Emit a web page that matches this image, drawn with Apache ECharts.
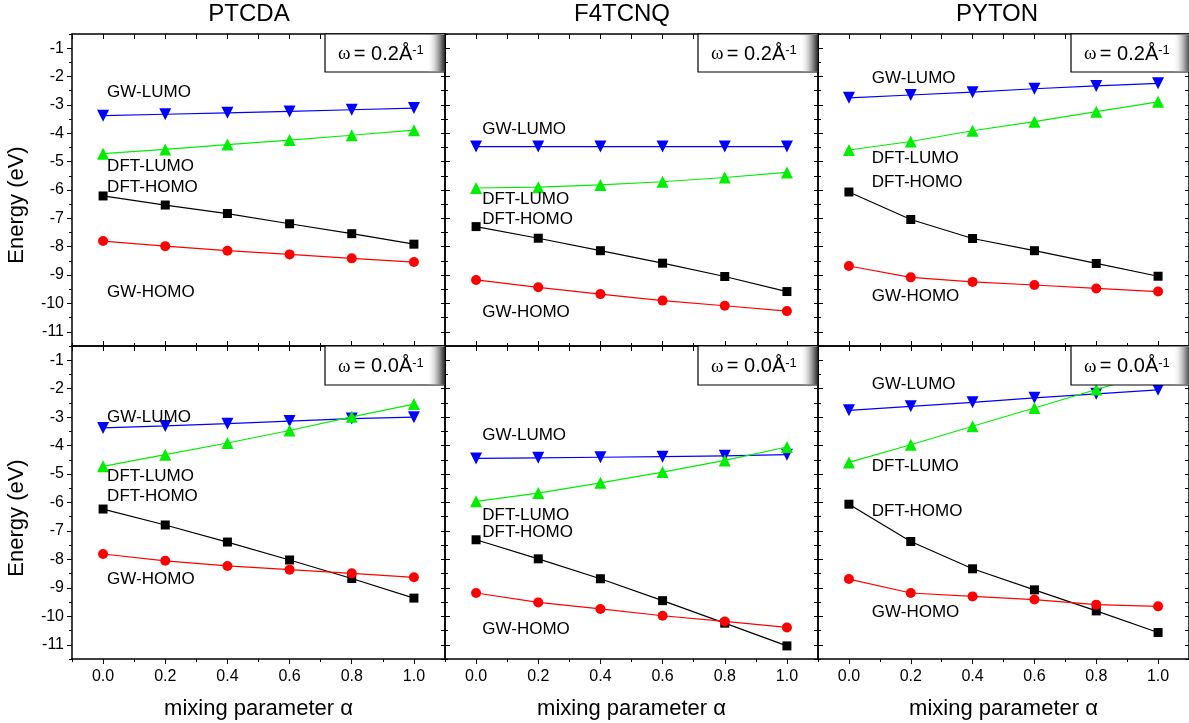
<!DOCTYPE html>
<html><head><meta charset="utf-8">
<script src="https://cdn.jsdelivr.net/npm/echarts@6/dist/echarts.min.js"></script>
<style>html,body{margin:0;padding:0;background:#fff}#c{width:1189px;height:723px}</style>
</head><body><div id="c"></div><script>
// ---------------- data ----------------
const alpha = [0.0, 0.2, 0.4, 0.6, 0.8, 1.0];
const molecules = ['PTCDA', 'F4TCNQ', 'PYTON'];
const omegaValues = ['0.2', '0.0'];
const orbitalNames = ['GW-LUMO', 'DFT-LUMO', 'DFT-HOMO', 'GW-HOMO'];
const xTickValues = [0.0, 0.2, 0.4, 0.6, 0.8, 1.0];
const xMinorTickValues = [-0.1, 0.1, 0.3, 0.5, 0.7, 0.9, 1.1];
const yTickValues = [-11, -10, -9, -8, -7, -6, -5, -4, -3, -2, -1];
const yMinorTickValues = [-11.5, -10.5, -9.5, -8.5, -7.5, -6.5, -5.5, -4.5, -3.5, -2.5, -1.5, -0.5];

// omega = 0.2 1/Å
const ptcda02_gwLumo  = [-3.38, -3.33, -3.28, -3.23, -3.17, -3.11];
const ptcda02_dftLumo = [-4.72, -4.57, -4.40, -4.24, -4.07, -3.89];
const ptcda02_dftHomo = [-6.21, -6.53, -6.83, -7.19, -7.54, -7.91];
const ptcda02_gwHomo  = [-7.80, -7.98, -8.14, -8.27, -8.41, -8.54];

const f4tcnq02_gwLumo  = [-4.47, -4.47, -4.47, -4.47, -4.47, -4.47];
const f4tcnq02_dftLumo = [-5.93, -5.90, -5.82, -5.71, -5.56, -5.38];
const f4tcnq02_dftHomo = [-7.29, -7.70, -8.14, -8.58, -9.05, -9.58];
const f4tcnq02_gwHomo  = [-9.17, -9.43, -9.67, -9.90, -10.08, -10.27];

const pyton02_gwLumo  = [-2.75, -2.65, -2.55, -2.43, -2.33, -2.24];
const pyton02_dftLumo = [-4.59, -4.29, -3.91, -3.59, -3.24, -2.89];
const pyton02_dftHomo = [-6.07, -7.04, -7.71, -8.14, -8.59, -9.04];
const pyton02_gwHomo  = [-8.68, -9.08, -9.24, -9.35, -9.47, -9.58];

// omega = 0.0 1/Å
const ptcda00_gwLumo  = [-3.38, -3.31, -3.23, -3.14, -3.05, -3.00];
const ptcda00_dftLumo = [-4.73, -4.32, -3.91, -3.47, -2.99, -2.54];
const ptcda00_dftHomo = [-6.23, -6.79, -7.39, -8.02, -8.67, -9.36];
const ptcda00_gwHomo  = [-7.81, -8.05, -8.23, -8.36, -8.49, -8.63];

const f4tcnq00_gwLumo  = [-4.45, -4.43, -4.41, -4.39, -4.36, -4.32];
const f4tcnq00_dftLumo = [-5.96, -5.67, -5.31, -4.93, -4.52, -4.05];
const f4tcnq00_dftHomo = [-7.31, -7.98, -8.68, -9.45, -10.24, -11.04];
const f4tcnq00_gwHomo  = [-9.18, -9.51, -9.74, -9.98, -10.18, -10.39];

const pyton00_gwLumo  = [-2.76, -2.62, -2.48, -2.32, -2.18, -2.04];
const pyton00_dftLumo = [-4.59, -3.97, -3.32, -2.68, -2.03, -1.40];
const pyton00_dftHomo = [-6.06, -7.37, -8.33, -9.07, -9.81, -10.57];
const pyton00_gwHomo  = [-8.69, -9.18, -9.30, -9.41, -9.59, -9.65];

// where the curve names are written (data coordinates: alpha, energy)
const labelAnchorX = [0.013, 0.02, 0.074];
const ptcda02_labelY  = [-2.54, -5.18, -5.90, -9.60];
const f4tcnq02_labelY = [-3.86, -6.32, -7.03, -10.32];
const pyton02_labelY  = [-2.05, -4.88, -5.74, -9.76];
const ptcda00_labelY  = [-2.99, -5.08, -5.78, -8.71];
const f4tcnq00_labelY = [-3.64, -6.46, -7.05, -10.45];
const pyton00_labelY  = [-1.85, -4.73, -6.31, -9.86];

const panelSeries = [
  [[ptcda02_gwLumo, ptcda02_dftLumo, ptcda02_dftHomo, ptcda02_gwHomo],
   [f4tcnq02_gwLumo, f4tcnq02_dftLumo, f4tcnq02_dftHomo, f4tcnq02_gwHomo],
   [pyton02_gwLumo, pyton02_dftLumo, pyton02_dftHomo, pyton02_gwHomo]],
  [[ptcda00_gwLumo, ptcda00_dftLumo, ptcda00_dftHomo, ptcda00_gwHomo],
   [f4tcnq00_gwLumo, f4tcnq00_dftLumo, f4tcnq00_dftHomo, f4tcnq00_gwHomo],
   [pyton00_gwLumo, pyton00_dftLumo, pyton00_dftHomo, pyton00_gwHomo]]
];
const panelLabelY = [
  [ptcda02_labelY, f4tcnq02_labelY, pyton02_labelY],
  [ptcda00_labelY, f4tcnq00_labelY, pyton00_labelY]
];

// ---------------- layout / style ----------------
const FONT = 'Liberation Sans, Arial, sans-serif';
const LEFTS = [72, 445, 818];
const W = 373;
const TOPS = [34, 346];
const HEIGHTS = [312, 313];
const seriesStyle = [
  {color: '#0000ff', symbol: 'triangle', symbolRotate: 180, symbolSize: 12},
  {color: '#00ee00', symbol: 'triangle', symbolRotate: 0, symbolSize: 12},
  {color: '#000000', symbol: 'rect', symbolRotate: 0, symbolSize: 9},
  {color: '#ff0000', symbol: 'circle', symbolRotate: 0, symbolSize: 10}
];

const grids = [], xAxes = [], yAxes = [], series = [], graphics = [];
const lineCol = '#000';
const LINE_ON = {show: true, onZero: false, lineStyle: {color: lineCol, width: 1.5}};
const LINE_OFF = {show: false, onZero: false};

function axisBase(extra) {
  return Object.assign({
    type: 'value', splitLine: {show: false},
    axisLine: LINE_ON,
    axisTick: {show: false}, axisLabel: {show: false}, silent: true
  }, extra);
}

for (let row = 0; row < 2; row++) {
  for (let col = 0; col < 3; col++) {
    const gi = grids.length;
    grids.push({left: LEFTS[col], top: TOPS[row], width: W, height: HEIGHTS[row], containLabel: false});
    const xr = {min: -0.1, max: 1.1, gridIndex: gi};
    const yr = {min: -11.5, max: -0.5, gridIndex: gi};
    // x axes
    const xMain = xAxes.length;
    xAxes.push(axisBase(Object.assign({}, xr, {
      position: 'bottom',
      axisTick: {show: true, inside: row === 0, length: 5, customValues: xTickValues, lineStyle: {color: lineCol, width: 1}},
      axisLabel: {show: row === 1, customValues: xTickValues, formatter: v => v.toFixed(1), margin: 10,
        fontSize: 16, fontFamily: FONT, color: '#000'},
      name: row === 1 ? 'mixing parameter \u03b1' : '', nameLocation: 'middle', nameGap: 39,
      nameTextStyle: {fontSize: 22, fontFamily: FONT, color: '#000'}
    })));
    xAxes.push(axisBase(Object.assign({}, xr, {
      position: 'bottom', axisLine: LINE_OFF,
      axisTick: {show: true, inside: row === 0, length: 3, customValues: xMinorTickValues, lineStyle: {color: lineCol, width: 1}},
      axisLabel: {show: false, customValues: xMinorTickValues}
    })));
    xAxes.push(axisBase(Object.assign({}, xr, {
      position: 'top',
      axisTick: {show: true, inside: true, length: 5, customValues: xTickValues.concat(xMinorTickValues), lineStyle: {color: lineCol, width: 1}},
      axisLabel: {show: false, customValues: xTickValues}
    })));
    // y axes
    const yMain = yAxes.length;
    yAxes.push(axisBase(Object.assign({}, yr, {
      position: 'left',
      axisTick: {show: true, inside: col !== 0, length: 5, customValues: yTickValues, lineStyle: {color: lineCol, width: 1}},
      axisLabel: {show: col === 0, customValues: yTickValues, margin: 8, fontSize: 16, fontFamily: FONT, color: '#000'}
    })));
    yAxes.push(axisBase(Object.assign({}, yr, {
      position: 'left', axisLine: LINE_OFF,
      axisTick: {show: true, inside: col !== 0, length: 3, customValues: yMinorTickValues, lineStyle: {color: lineCol, width: 1}},
      axisLabel: {show: false, customValues: yMinorTickValues}
    })));
    yAxes.push(axisBase(Object.assign({}, yr, {
      position: 'right',
      axisTick: {show: true, inside: true, length: 4, customValues: yTickValues.concat(yMinorTickValues), lineStyle: {color: lineCol, width: 1}},
      axisLabel: {show: false, customValues: yTickValues}
    })));

    const sets = panelSeries[row][col];
    sets.forEach((vals, k) => {
      const st = seriesStyle[k];
      series.push({
        type: 'line', name: orbitalNames[k] + ' ' + molecules[col] + ' ' + omegaValues[row],
        xAxisIndex: xMain, yAxisIndex: yMain,
        data: alpha.map((a, i) => [a, vals[i]]),
        symbol: st.symbol, symbolRotate: st.symbolRotate, symbolSize: st.symbolSize,
        showAllSymbol: true,
        lineStyle: {color: st.color, width: 1.2},
        itemStyle: {color: st.color, borderWidth: 0},
        z: 3 + k, silent: true, clip: true
      });
    });
    // curve name labels
    series.push({
      type: 'scatter', xAxisIndex: xMain, yAxisIndex: yMain, silent: true, z: 10,
      symbolSize: 0, itemStyle: {opacity: 1, color: '#000'},
      data: orbitalNames.map((n, k) => [labelAnchorX[col], panelLabelY[row][col][k], n]),
      label: {show: true, position: 'right', distance: 0, formatter: p => p.data[2],
        fontSize: 17, fontFamily: FONT, color: '#000', opacity: 1, textBorderWidth: 0}
    });

    // omega box
    const bx = LEFTS[col] + W - 120, by = TOPS[row], bh = row === 0 ? 38 : 39;
    graphics.push({type: 'rect', z: 100, shape: {x: bx, y: by, width: 120, height: bh},
      style: {fill: '#fff', stroke: '#000', lineWidth: 1.2}});
    graphics.push({type: 'rect', z: 101, shape: {x: bx + 102, y: by + 1, width: 18, height: bh - 1.5},
      style: {fill: {type: 'linear', x: 0, y: 0, x2: 1, y2: 0,
        colorStops: [{offset: 0, color: 'rgba(255,255,255,0)'}, {offset: 0.6, color: 'rgba(150,150,150,0.8)'}, {offset: 1, color: '#222'}]}}});
    graphics.push({type: 'text', z: 102, x: bx + 13, y: by + bh / 2 + 1,
      style: {text: '{w|\u03c9} {n|= ' + omegaValues[row] + '\u00c5}{s|-1}', verticalAlign: 'middle', align: 'left',
        rich: {
          w: {fontFamily: 'Liberation Serif, serif', fontSize: 19, fill: '#000', verticalAlign: 'bottom'},
          n: {fontFamily: FONT, fontSize: 20, fill: '#000', verticalAlign: 'bottom'},
          s: {fontFamily: FONT, fontSize: 13, fill: '#000', verticalAlign: 'top'}
        }}});
  }
}

// titles & y axis names
const titleX = [249, 622, 997];
molecules.forEach((m, i) => graphics.push({type: 'text', z: 50, x: titleX[i], y: 14,
  style: {text: m, font: '24px ' + FONT, fill: '#000', align: 'center', verticalAlign: 'middle'}}));
[205, 518].forEach(cy => graphics.push({type: 'text', z: 50, x: 17, y: cy, rotation: Math.PI / 2,
  style: {text: 'Energy (eV)', font: '22px ' + FONT, fill: '#000', align: 'center', verticalAlign: 'middle'}}));

const chart = echarts.init(document.getElementById('c'), null, {renderer: 'canvas'});
chart.setOption({
  animation: false,
  backgroundColor: '#fff',
  grid: grids, xAxis: xAxes, yAxis: yAxes, series: series,
  graphic: graphics
});
</script></body></html>
